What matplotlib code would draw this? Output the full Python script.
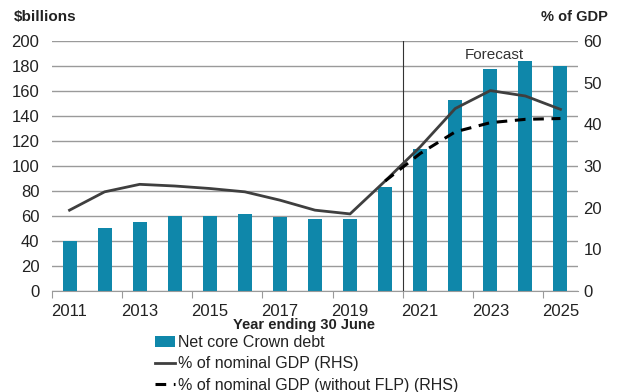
import matplotlib
matplotlib.use("Agg")
import matplotlib.pyplot as plt
import numpy as np
from matplotlib.patches import Patch
from matplotlib.lines import Line2D

plt.rcParams['font.family'] = ['Liberation Sans', 'DejaVu Sans']

years = list(range(2011, 2026))
debt = [40, 50.6, 55.5, 59.7, 60.4, 61.6, 59.5, 57.3, 57.6, 83, 113.3, 152.8, 178, 183.7, 180.3]
pct_gdp = [19.4, 23.8, 25.6, 25.2, 24.6, 23.8, 21.8, 19.4, 18.5, 26.4, 34.6, 43.8, 48.1, 46.8, 43.6]
pct_gdp_no_flp_years = list(range(2020, 2026))
pct_gdp_no_flp = [26.4, 33.0, 38.2, 40.4, 41.2, 41.4]

bar_color = '#0F87AA'
grid_color = '#9a9a9a'
text_color = '#222222'

fig = plt.figure(figsize=(6.21, 3.92), dpi=100)
ax = fig.add_axes([52/621, 1 - 291/392, (578 - 52)/621, (291 - 41)/392])
ax2 = ax.twinx()

x = np.arange(len(years))
ax.bar(x, debt, width=0.4, color=bar_color, zorder=2)
ax.set_xlim(-0.5, len(years) - 0.5)
ax.set_ylim(0, 200)
ax.set_yticks(range(0, 201, 20))
ax.yaxis.grid(True, color=grid_color, linewidth=1.0, zorder=0)
ax.set_axisbelow(True)
for s in ['left', 'right', 'top']:
    ax.spines[s].set_visible(False)
    ax2.spines[s].set_visible(False)
ax2.spines['bottom'].set_visible(False)
ax.spines['bottom'].set_color(grid_color)
ax.tick_params(axis='y', length=0, pad=9, labelsize=12, labelcolor=text_color)

# year labels on odd years, tick marks on every second category boundary
ax.set_xticks(np.arange(-0.5, len(years), 2))
ax.set_xticklabels([])
ax.tick_params(axis='x', which='major', length=5, color=grid_color)
ax.set_xticks(x[::2], minor=True)
ax.set_xticklabels([str(y) for y in years[::2]], minor=True)
ax.tick_params(axis='x', which='minor', length=0, pad=9, labelsize=12, labelcolor=text_color)
ax.set_xlabel('Year ending 30 June', fontsize=10.5, fontweight='bold', color=text_color)
ax.xaxis.set_label_coords((304 - 52) / (578 - 52), -(325 - 291) / (291 - 41))
ax.xaxis.label.set_va('center')

# forecast boundary
ax.axvline(9.5, color='#333333', linewidth=0.8, zorder=3)
ax.text(12.12, 189, 'Forecast', ha='center', va='center', fontsize=11, color='#333333')

ax2.plot(x, pct_gdp, color='#3f3f3f', linewidth=2.0, zorder=4)
xn = [years.index(y) for y in pct_gdp_no_flp_years]
ax2.plot(xn, pct_gdp_no_flp, color='black', linewidth=2.2, linestyle=(0, (3.5, 2.5)), zorder=4)
ax2.set_ylim(0, 60)
ax2.set_yticks(range(0, 61, 10))
ax2.tick_params(axis='y', length=0, pad=4, labelsize=12, labelcolor=text_color)

fig.text(14/621, 1 - 17/392, '$billions', fontsize=11, fontweight='bold', va='center', ha='left', color=text_color)
fig.text(608/621, 1 - 17/392, '% of GDP', fontsize=10.5, fontweight='bold', va='center', ha='right', color=text_color)

handles = [
    Patch(facecolor=bar_color, edgecolor='none'),
    Line2D([0], [0], color='#3f3f3f', linewidth=2.0),
    Line2D([0], [0], color='black', linewidth=2.2, linestyle=(0, (3.5, 2.5))),
]
labels = ['Net core Crown debt', '% of nominal GDP (RHS)', '% of nominal GDP (without FLP) (RHS)']
fig.legend(handles, labels, loc='upper left', bbox_to_anchor=(155/621, 1 - 335/392),
           frameon=False, fontsize=11.5, handlelength=1.25, handletextpad=0.18,
           labelspacing=0.4, borderpad=0, borderaxespad=0, labelcolor=text_color)

fig.savefig('out.png', dpi=100)
